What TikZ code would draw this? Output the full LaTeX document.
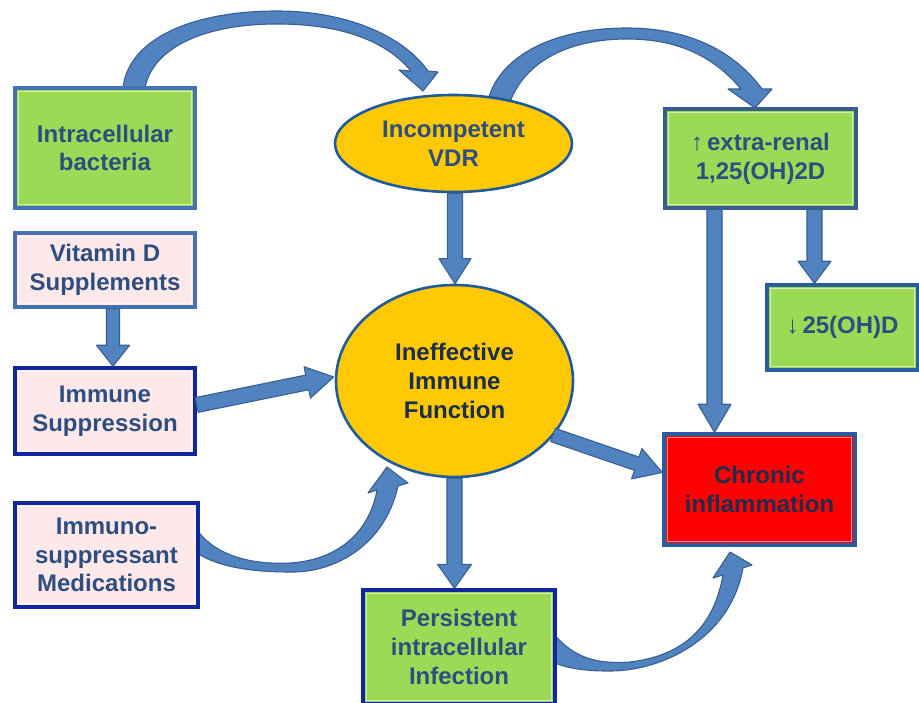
\documentclass[tikz,border=0pt]{standalone}
\usepackage{fontspec}
\setmainfont{Liberation Sans}
\usetikzlibrary{shapes.geometric,calc}
\definecolor{boxgreen}{HTML}{9CD957}
\definecolor{boxpink}{HTML}{FDE9E9}
\definecolor{boxyellow}{HTML}{FFC905}
\definecolor{boxred}{HTML}{FF0000}
\definecolor{midblue}{HTML}{4672B4}
\definecolor{navyblue}{HTML}{1027A0}
\definecolor{ellblue}{HTML}{1F5C99}
\definecolor{redline}{HTML}{2A5DA0}
\definecolor{txtblue}{HTML}{2E4E80}
\definecolor{txtdark}{HTML}{1C2D4D}
\definecolor{arrfill}{HTML}{5083C0}
\definecolor{arrline}{HTML}{3A5F90}
\newcommand\blockarrow[5]{%
  \coordinate (baC) at ($(#2)!#5!(#1)$);
  \filldraw[barrow] ($(#1)!#3!90:(#2)$) -- ($(baC)!#3!90:(#2)$) -- ($(baC)!#4!90:(#2)$) -- (#2)
    -- ($(baC)!#4!-90:(#2)$) -- ($(baC)!#3!-90:(#2)$) -- ($(#1)!#3!-90:(#2)$) -- cycle;}
\begin{document}
\begin{tikzpicture}[x=1pt,y=-1pt,
  barrow/.style={fill=arrfill,draw=arrline,line width=1.1pt,line join=round},
  lbl/.style={align=center,inner sep=0pt,font=\fontsize{24}{28.8}\selectfont\bfseries},
  bevel/.style={path picture={\draw[white,opacity=0.55,line width=1.2pt]
      ($(path picture bounding box.south west)+(3.2,-3.2)$) rectangle
      ($(path picture bounding box.north east)+(-3.2,3.2)$);}},
  gbox/.style={lbl,rectangle,fill=boxgreen,draw=midblue,line width=3.4pt,text=txtblue,bevel},
  pbox/.style={lbl,rectangle,fill=boxpink,draw=navyblue,line width=3.4pt,text=txtblue,bevel},
  ebox/.style={lbl,ellipse,fill=boxyellow,draw=ellblue,line width=2.6pt,text=txtblue}]
\useasboundingbox (0,0) rectangle (919,703);
% curved arrows (behind nodes)
\filldraw[barrow] (123,88) .. controls (128,40) and (190,11) .. (277,11) .. controls (350,11) and (405,38) .. (428,71)
  -- (438,72) -- (423,91) -- (399,70) -- (411,71) .. controls (385,40) and (340,24) .. (277,24)
  .. controls (200,24) and (152,50) .. (145,88) -- cycle;
\filldraw[barrow] (488,100) .. controls (500,55) and (555,28) .. (627,28) .. controls (690,28) and (735,52) .. (762,89)
  -- (772,89) -- (755,108) -- (728,89) -- (741,89) .. controls (715,58) and (680,39) .. (627,39)
  .. controls (568,39) and (525,62) .. (510,102) -- cycle;
\filldraw[barrow] (197,530) .. controls (215,555) and (250,565) .. (290,563) .. controls (340,560) and (370,530) .. (377,490)
  -- (368,493) -- (387,467) -- (408,483) -- (398,486) .. controls (385,545) and (335,573) .. (290,572)
  .. controls (245,572) and (215,565) .. (197,553) -- cycle;
\filldraw[barrow] (553,633) .. controls (575,660) and (600,664) .. (630,662) .. controls (690,655) and (715,620) .. (723,575)
  -- (713,578) -- (730,552) -- (752,565) -- (743,568) .. controls (730,640) and (660,672) .. (607,671)
  .. controls (585,671) and (565,668) .. (553,662) -- cycle;
% nodes
\node[gbox,minimum width=180pt,minimum height=120pt] (bact) at (105,148) {Intracellular\\bacteria};
\node[pbox,draw=midblue,minimum width=180pt,minimum height=74pt] (vitd) at (105,270) {Vitamin D\\Supplements};
\node[pbox,minimum width=180pt,minimum height=86pt] (imsup) at (105,411) {Immune\\Suppression};
\node[pbox,minimum width=183pt,minimum height=104pt] (meds) at (106.5,555) {Immuno-\\suppressant\\Medications};
\node[ebox,minimum width=237pt,minimum height=97pt] (vdr) at (453.5,143.5) {Incompetent\\VDR};
\node[ebox,minimum width=237pt,minimum height=192pt,text=txtdark] (ineff) at (454.5,381) {Ineffective\\Immune\\Function};
\node[gbox,draw=midblue!80!black,minimum width=191pt,minimum height=99pt] (extra) at (760.5,158.5) {{\mdseries\textuparrow}\,extra-renal\\1,25(OH)2D};
\node[gbox,draw=redline,minimum width=151pt,minimum height=85pt] (d25) at (842.5,327.5) {{\mdseries\textdownarrow}\,25(OH)D};
\node[lbl,rectangle,fill=boxred,draw=redline,line width=3.4pt,text=txtdark,bevel,minimum width=191pt,minimum height=111pt] (chron) at (759.5,489.5) {Chronic\\inflammation};
\node[gbox,draw=navyblue,minimum width=192pt,minimum height=114pt] (pers) at (459,647) {Persistent\\intracellular\\Infection};
% straight block arrows
\coordinate (a1) at ($(vdr.south)+(1.5,0)$);
\blockarrow{a1}{a1 |- ineff.north}{7.5pt}{16pt}{25pt}
\coordinate (a2) at ($(vitd.south)+(8,0)$);
\blockarrow{a2}{a2 |- imsup.north}{6.5pt}{16.5pt}{21pt}
\coordinate (a3s) at ($(imsup.east)+(0,-6)$);
\coordinate (a3t) at ($(ineff.west)+(-1,-4)$);
\blockarrow{a3s}{a3t}{7.5pt}{16pt}{27pt}
\coordinate (a4s) at ($(ineff.center)+(98.5,54)$);
\coordinate (a4t) at ($(chron.west)+(0,-17)$);
\blockarrow{a4s}{a4t}{7pt}{16pt}{27pt}
\coordinate (a5) at (ineff.south);
\blockarrow{a5}{a5 |- pers.north}{7.5pt}{17pt}{24pt}
\coordinate (a6) at ($(extra.south)+(-46,0)$);
\blockarrow{a6}{a6 |- chron.north}{7.5pt}{16.5pt}{28pt}
\coordinate (a7) at ($(extra.south)+(54,0)$);
\blockarrow{a7}{a7 |- d25.north}{7.5pt}{16.5pt}{22pt}
\end{tikzpicture}
\end{document}
